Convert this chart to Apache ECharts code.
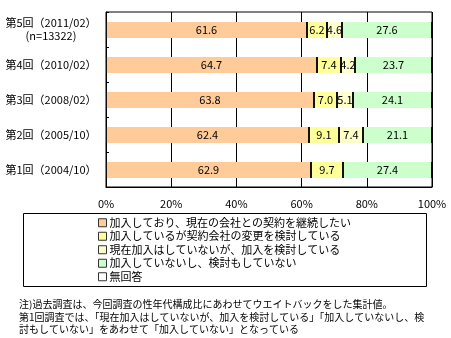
<!DOCTYPE html>
<html>
<head>
<meta charset="utf-8">
<script src="https://cdn.jsdelivr.net/npm/echarts@6/dist/echarts.min.js"></script>
<style>
  html, body { margin: 0; padding: 0; background: #fff; }
  #chart { width: 451px; height: 338px; }
</style>
</head>
<body>
<div id="chart"></div>
<script>
// Survey rounds, bottom to top
const categories = [
  '第1回（2004/10）',
  '第2回（2005/10）',
  '第3回（2008/02）',
  '第4回（2010/02）',
  '第5回（2011/02）\n(n=13322)'
];
const seriesNames = [
  '加入しており、現在の会社との契約を継続したい',
  '加入しているが契約会社の変更を検討している',
  '現在加入はしていないが、加入を検討している',
  '加入していないし、検討もしていない',
  '無回答'
];
// Shares (%) per round, same order as categories
const keepContract       = [62.9, 62.4, 63.8, 64.7, 61.6];
const consideringChange  = [9.7, 9.1, 7.0, 7.4, 6.2];
const consideringJoining = [null, 7.4, 5.1, 4.2, 4.6];
const notJoined          = [27.4, 21.1, 24.1, 23.7, 27.6];
const noAnswer           = [null, null, null, null, null];
const xTicks = [0, 20, 40, 60, 80, 100];

const colors = ['#FFCC99', '#FFFF99', '#FFFFCC', '#CCFFCC', '#FFFFFF'];
const FONT = '"Noto Sans CJK JP", "Noto Sans", sans-serif';

const allSeries = [keepContract, consideringChange, consideringJoining, notJoined, noAnswer];

// Build stacked segments [start, end, categoryIndex, value]
const running = categories.map(() => 0);
const segments = allSeries.map(vals => {
  const out = [];
  vals.forEach((v, i) => {
    if (v == null || v === 0) return;
    out.push([running[i], running[i] + v, i, v]);
    running[i] += v;
  });
  return out;
});

function renderSegment(params, api) {
  const s = api.value(0), e = api.value(1), cat = api.value(2), v = api.value(3);
  const p0 = api.coord([s, cat]);
  const p1 = api.coord([e, cat]);
  const h = Math.round(api.size([0, 1])[1] * 0.46);
  const x0 = Math.round(p0[0]);
  const x1 = Math.round(p1[0]);
  const y = Math.round(p0[1] - h / 2);
  return {
    type: 'group',
    children: [
      {
        type: 'rect',
        shape: { x: x0, y: y, width: x1 - x0, height: h },
        style: { fill: api.visual('color') },
        textContent: {
          style: { text: v.toFixed(1), fill: '#000', font: '11px ' + FONT }
        },
        textConfig: { position: 'inside' }
      },
      {
        type: 'line',
        shape: { x1: x0 + 0.5, y1: y, x2: x0 + 0.5, y2: y + h },
        style: { stroke: '#111', lineWidth: 1 }
      },
      {
        type: 'line',
        shape: { x1: x1 - 0.5, y1: y, x2: x1 - 0.5, y2: y + h },
        style: { stroke: '#111', lineWidth: 1 }
      }
    ]
  };
}

const chart = echarts.init(document.getElementById('chart'), null, { renderer: 'canvas' });

chart.setOption({
  animation: false,
  backgroundColor: '#fff',
  textStyle: { fontFamily: FONT },
  grid: {
    left: 106, right: 19, top: 12, bottom: 151,
    show: true, borderColor: '#000', borderWidth: 1, backgroundColor: 'transparent'
  },
  xAxis: {
    type: 'value',
    min: 0, max: 100, interval: 20,
    axisLine: { show: true, lineStyle: { color: '#000' } },
    axisTick: { show: false },
    splitLine: { show: true, lineStyle: { color: '#000', width: 1 } },
    axisLabel: {
      margin: 11, color: '#000', fontSize: 11, fontFamily: FONT,
      formatter: v => xTicks.includes(v) ? v + '%' : ''
    }
  },
  yAxis: {
    type: 'category',
    data: categories,
    axisLine: { show: true, lineStyle: { color: '#000' } },
    axisTick: { show: true, inside: true, length: 3, lineStyle: { color: '#000' } },
    splitLine: { show: false },
    axisLabel: {
      margin: 55, align: 'center', color: '#000', fontSize: 11,
      lineHeight: 13, fontFamily: FONT
    }
  },
  legend: {
    orient: 'vertical',
    left: 98, top: 216,
    padding: 0,
    itemGap: 0,
    itemWidth: 8, itemHeight: 8,
    icon: 'rect',
    itemStyle: { borderColor: '#333', borderWidth: 1 },
    textStyle: { color: '#000', fontSize: 11, lineHeight: 13.5, fontFamily: FONT, padding: [0, 0, 0, -2] },
    selectedMode: false,
    data: seriesNames
  },
  graphic: [
    {
      type: 'rect',
      shape: { x: 23.5, y: 213.5, width: 403, height: 73 },
      style: { fill: 'none', stroke: '#000', lineWidth: 1 },
      silent: true
    },
    {
      type: 'text',
      left: 19, top: 298,
      style: {
        text: '注)過去調査は、今回調査の性年代構成比にあわせてウエイトバックをした集計値。\n第1回調査では、「現在加入はしていないが、加入を検討している」「加入していないし、検\n討もしていない」をあわせて「加入していない」となっている',
        font: '10px ' + FONT,
        fill: '#000',
        lineHeight: 12.5
      },
      silent: true
    }
  ],
  series: seriesNames.map((name, k) => ({
    name: name,
    type: 'custom',
    renderItem: renderSegment,
    itemStyle: { color: colors[k] },
    encode: { x: [0, 1], y: 2 },
    data: segments[k]
  }))
});
</script>
</body>
</html>
